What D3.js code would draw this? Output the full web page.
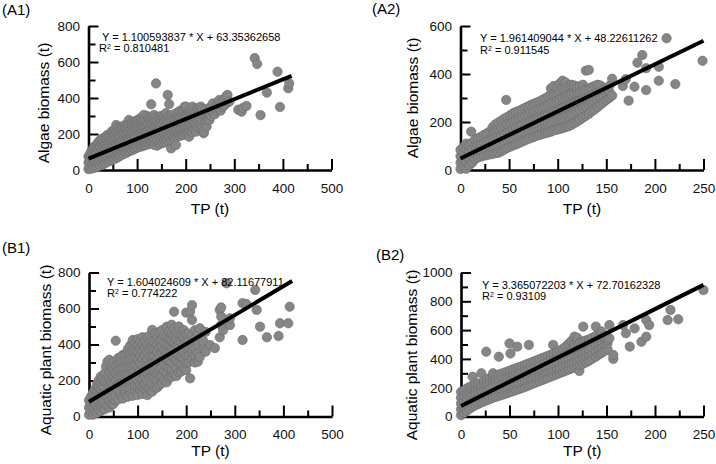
<!DOCTYPE html>
<html><head><meta charset="utf-8">
<script src="https://cdn.jsdelivr.net/npm/d3@7"></script>
<style>body{margin:0;background:#fff}svg{display:block;font-family:"Liberation Sans",Arial,sans-serif}</style>
</head><body><svg id="c" width="716" height="464"></svg>
<script>
// ---- chart values ----
const panelLabels = ["(A1)", "(A2)", "(B1)", "(B2)"];
const yTitles = ["Algae biomass (t)", "Algae biomass (t)", "Aquatic plant biomass (t)", "Aquatic plant biomass (t)"];
const xTitle = "TP (t)";
const xMax = [500, 250, 500, 250];
const yMax = [800, 600, 800, 1000];
const xMajorStep = [100, 50, 100, 50];
const yMajorStep = [200, 200, 200, 200];
const slopes = [1.100593837, 1.961409044, 1.604024609, 3.365072203];
const intercepts = [63.35362658, 48.22611262, 82.11677911, 72.70162328];
const fitXMax = [418, 250, 418, 250];
const eqTexts = ["Y = 1.100593837 * X + 63.35362658", "Y = 1.961409044 * X + 48.22611262",
                 "Y = 1.604024609 * X + 82.11677911", "Y = 3.365072203 * X + 72.70162328"];
const r2Values = ["0.810481", "0.911545", "0.774222", "0.93109"];

// point columns: [TP, biomass values at that TP...]
const columnsA1 = [
 [0,5,40,75],[3,20,55,90],[6,8,42,78,105],[9,25,60,95,118],[12,12,47,82,115,130],[15,28,62,96,128],
 [18,18,52,88,120,145],[21,35,70,105,140,157],[24,25,60,95,130,165],[27,40,75,110,145,172],[30,30,65,100,135,170],
 [33,45,80,115,150,180],[36,40,75,110,145,185],[39,55,90,125,160,195],[42,48,83,118,153,190],[45,60,95,130,165,200],
 [48,55,90,125,160,195,215],[51,68,103,138,173,210],[54,62,97,132,167,202,225],[57,75,110,145,180,215,250],
 [60,70,105,140,175,210,235],[63,85,120,155,190,225],[66,80,115,150,185,220,240],[69,95,130,165,200,235],
 [72,88,123,158,193,228,245],[75,100,135,170,205,240],[78,95,130,165,200,235,255],[81,108,143,178,213,248],[83,278],
 [84,105,140,175,210,231,255],[87,115,150,185,220,255],[90,110,145,180,215,250,265],[93,122,157,192,227,262],
 [96,118,153,188,223,258,272],[99,128,163,198,233,268],[102,125,160,195,230,265,280],[105,135,170,205,240,278],
 [108,130,165,200,235,270,290],[111,140,175,210,245,280],[114,135,170,205,240,275,306],[117,145,180,215,250,285],
 [120,140,175,210,245,280,300],[123,150,185,220,255,290],[126,145,180,215,250,285],[129,155,190,225,260,295,365],
 [132,150,185,220,255,290],[135,140,175,210,245,280,306],[138,150,185,220,255,290],[139,481],[141,135,170,205,240,275],
 [144,155,190,225,260,295],[147,145,180,215,250,285],[150,160,195,230,265,300],[153,150,185,220,255,287],
 [156,165,200,235,270,300],[159,155,190,213,245,280,315],[162,170,205,240,275],[163,417],[165,160,195,230,265,300],
 [166,366],[168,175,210,245,280],[170,120],[171,165,200,235,270,305],[174,180,215,250,285],[177,175,210,245,280,310],
 [180,139,190,225,260,295],[183,185,220,255,290,320],[186,195,230,265,300],[189,190,225,260,295,330],[192,200,235,270,305],
 [195,195,230,259,295,335],[198,205,240,275,310,352],[201,200,235,270,305,352],[204,210,245,280,315],
 [207,185,220,255,290,325],[210,215,250,285,320],[214,210,245,280,315,352],[217,225,260,295,330],[221,213,250,285,320],
 [224,235,270,305,340],[228,240,278,315,345],[231,255,290,325,352],[234,240,275,310,340],[237,204,213],[240,265,300,335],
 [243,241,280,320],[246,290,325],[249,278,310,345],[252,300,350],[256,320,370],[260,310,345],[264,330,360],[268,340,375],
 [269,389],[272,330,365],[276,350,385],[280,360,395],[284,411],[286,375,417],[290,380],
 [308,335],[315,324],[318,345],[325,356],[342,622],[347,589],[354,305],[367,430],[389,546],[394,350],[411,454],[413,481]
];
const columnsA2 = [
 [0,4,30,57,84],[3,15,42,70,96],[6,5,32,60,88,110],[9,20,47,75,103],[11,160],[12,30,58,86,114],[15,45,72,100,126],
 [18,52,80,108,132],[21,56,84,112,138],[24,60,88,117,146],[27,62,91,121,152],[30,65,95,126,160],[33,67,98,130,165,178],
 [36,70,101,134,168,190],[39,72,104,137,172,198],[42,78,110,143,177,205],[45,85,117,150,184,214],[47,292],
 [48,92,124,157,190,220],[51,97,130,163,196,228],[54,102,135,169,203,236],[57,107,141,175,209,242],
 [60,112,147,181,215,246],[63,118,153,188,222,252],[66,123,158,193,228,258],[69,128,163,198,233,264],
 [72,133,168,204,240,270],[75,137,173,209,245,275],[78,142,178,214,250,280],[81,146,182,218,254,285],
 [84,150,186,223,260,292],[87,153,190,228,265,298],[90,156,194,232,270,305],[93,160,199,238,277,315,340],
 [96,165,204,243,282,320,350],[99,168,208,248,288,325,345],[102,171,212,253,294,332,360],[105,174,216,258,300,338,372],
 [108,178,220,262,305,343,365],[111,182,225,268,310,350],[114,188,231,274,316,355],[117,195,237,279,320,352],
 [120,202,243,285,325,345],[123,210,250,290,328,350],[126,218,256,295,332,355],[129,226,263,300,336,414],
 [132,234,270,306,340,417],[135,244,278,312,345],[138,252,285,318,350],[141,262,293,324,355],[144,272,300,330,352],
 [147,282,308,334],[150,292,318,340],[153,300,326,350],[156,310,380],
 [167,350],[170,378],[173,289],[179,347],[182,447],[187,479],[191,424,333],[204,430,372],[212,549],[221,358],[249,455]
];
const columnsB1 = [
 [0,10,50,90],[4,30,70,110],[8,10,50,90,130],[12,30,70,110,150],[16,20,60,100,140,180],[20,40,80,120,160,200],
 [24,30,70,110,150,190,221],[28,50,90,130,170,210],[32,40,80,120,160,200,240],[35,277],[38,60,100,140,180,220,305],
 [42,50,90,130,170,210,250,315],[46,70,110,150,190,230,270],[50,70,100,140,180,220,260,300],[55,90,120,160,200,240,280,421],
 [60,95,140,180,220,260,300,325],[65,120,145,185,225,265,305,330],[70,100,150,190,230,270,310,342],
 [75,130,155,195,235,275,315,345],[80,110,155,195,235,275,315,355,375],[85,135,160,200,240,280,320,360,395],
 [90,115,165,205,245,285,325,365,405,425],[95,145,170,210,250,290,330,370,410],[100,120,165,205,245,285,325,365,400,430],
 [105,150,175,215,255,295,335,375,415],[110,125,165,205,245,285,325,365,405,440],[115,150,180,220,260,300,340,380,420],
 [120,119,160,200,240,280,320,360,400,440],[125,160,215,255,295,335,375,415,450],[130,138,180,220,260,300,340,380,420,481],
 [135,165,215,255,295,335,375,415,460],[140,160,200,240,280,320,360,400,440],[145,175,225,265,305,345,385,425,470],
 [150,185,230,270,310,350,390,430,480],[155,200,250,290,330,370,410,450],[160,190,240,280,320,360,400,440,499],
 [165,215,270,310,350,390,430,470],[170,220,260,300,340,380,420,460,510],[175,235,290,330,370,410,450,490,582],
 [180,225,270,310,350,390,430,470],[185,245,300,340,380,420,460,500],[190,250,290,330,370,410,450],
 [195,265,320,360,400,440,480],[200,258,300,340,380,420,460,577],[205,300,340,380,420,460],[208,212,582],
 [212,320,360,400,450,536,619],[218,300,340,380,430,480],[224,305,350,400,460],[228,330,490],[235,380,420],
 [240,360,470],[249,397],[259,380],[269,440,592],[272,508,555,606],[276,480],[283,740],[290,508,545],[316,425,630],
 [324,625],[342,703],[345,592],[352,499],[366,440],[390,447],[393,518],[410,518],[413,610]
];
const columnsB2 = [
 [0,10,50,90,130,170],[3,25,65,105,145,180],[6,40,80,120,160,195],[9,55,95,135,175,205],[12,68,108,148,188,215,276],
 [15,78,118,158,198,222],[18,88,128,168,208,230],[21,98,138,178,218,300],[24,106,146,186,226,248],[26,450],
 [27,114,154,194,234,258],[30,122,162,202,242,268],[33,130,170,210,250,278,300],[36,137,177,217,257,285],
 [39,143,183,223,263,292,415],[42,150,190,230,270,298],[45,156,196,236,276,305],[48,163,203,243,283,312],[50,508],
 [51,170,210,250,290,320,438],[54,177,217,257,297,328],[57,184,224,264,304,335],[58,485],[60,191,231,271,311,342],
 [63,198,238,278,318,350],[66,206,246,286,326,358],[69,214,254,294,334,366],[70,497],[72,222,262,302,342,374],
 [75,230,270,310,350,382],[78,238,278,318,358,390],[81,246,286,326,366,398],[84,254,294,334,374,406],
 [87,262,302,342,382,414],[90,270,310,350,390,422],[93,278,318,358,398,430],[95,497],[96,286,326,366,406,438],
 [99,294,334,374,414,446],[102,302,342,382,422,458],[105,310,350,390,430,470],[108,318,358,398,438,485],
 [111,326,366,406,446,505],[114,334,374,414,454,525],[117,342,382,422,462,500,555],[120,350,390,430,470,510,545],
 [122,316],[123,358,398,438,478,515],[126,366,406,446,486,522,624],[129,376,416,456,496,528],[132,388,428,468,508,535],
 [135,400,440,480,520,545],[139,415,455,495,535,560,624],[142,430,470,510,545],[145,442,482,522,560,590],
 [148,455,495,535,555],[151,468,508,530],
 [153,543,635],[157,400,427],[167,635],[170,578],[174,485],[179,612],[186,519],[191,554,670],[194,635],
 [213,670],[216,740],[224,675],[250,878]
];

// ---- layout ----
const frames = [
  {x0: 88.5, x1: 331.5, y0: 170, y1: 26, lab: [2, 14.5], eq: [102, 40.5], r2: [99, 52], yt: [49, 103], xt: 214},
  {x0: 460.5, x1: 703.5, y0: 170, y1: 26, lab: [372, 14], eq: [480, 42], r2: [480, 54], yt: [418, 98], xt: 214},
  {x0: 89, x1: 332, y0: 416.5, y1: 272.5, lab: [2, 253], eq: [107, 285.5], r2: [107, 297], yt: [50.5, 350], xt: 456},
  {x0: 461, x1: 703.5, y0: 416.5, y1: 272.5, lab: [376, 260], eq: [482, 289], r2: [482, 300], yt: [416.5, 355], xt: 456}
];

const flat = cols => cols.flatMap(c => c.slice(1).map(v => [c[0], v]));
const allPoints = [flat(columnsA1), flat(columnsA2), flat(columnsB1), flat(columnsB2)];

const svg = d3.select("#c");

frames.forEach((f, i) => {
  const x = d3.scaleLinear().domain([0, xMax[i]]).range([f.x0, f.x1]);
  const y = d3.scaleLinear().domain([0, yMax[i]]).range([f.y0, f.y1]);
  const g = svg.append("g");

  const xMajor = d3.range(0, xMax[i] + 1, xMajorStep[i]);
  const xMinor = d3.range(xMajorStep[i] / 2, xMax[i], xMajorStep[i]);
  const yMajor = d3.range(0, yMax[i] + 1, yMajorStep[i]);
  const yMinor = d3.range(yMajorStep[i] / 2, yMax[i], yMajorStep[i]);

  g.append("g").attr("transform", `translate(0,${f.y0})`)
    .call(d3.axisBottom(x).tickValues(xMajor).tickSize(-11).tickSizeOuter(0).tickPadding(13).tickFormat(d3.format("d")));
  g.append("g").attr("transform", `translate(0,${f.y0})`)
    .call(d3.axisBottom(x).tickValues(xMinor).tickSize(-6).tickSizeOuter(0).tickFormat(""))
    .select(".domain").remove();
  g.append("g").attr("transform", `translate(${f.x0},0)`)
    .call(d3.axisLeft(y).tickValues(yMajor).tickSize(-10).tickSizeOuter(0).tickPadding(8.5).tickFormat(d3.format("d")));
  g.append("g").attr("transform", `translate(${f.x0},0)`)
    .call(d3.axisLeft(y).tickValues(yMinor).tickSize(-7).tickSizeOuter(0).tickFormat(""))
    .select(".domain").remove();

  g.selectAll(".domain").attr("stroke", "#000").attr("stroke-width", 2.6);
  g.selectAll(".tick line").attr("stroke", "#000").attr("stroke-width", 2);
  g.selectAll(".tick text").attr("fill", "#111").style("font-size", "13.5px").style("font-family", '"Liberation Sans",Arial,sans-serif');

  g.append("g").selectAll("circle").data(allPoints[i]).join("circle")
    .attr("cx", d => x(d[0])).attr("cy", d => y(d[1])).attr("r", 4.7)
    .attr("fill", "#868686").attr("stroke", "#6c6c6c").attr("stroke-width", 0.6);

  g.append("line")
    .attr("x1", x(0)).attr("y1", y(intercepts[i]))
    .attr("x2", x(fitXMax[i])).attr("y2", y(slopes[i] * fitXMax[i] + intercepts[i]))
    .attr("stroke", "#000").attr("stroke-width", 4);

  g.append("text").attr("x", f.lab[0]).attr("y", f.lab[1]).style("font-size", "15px").text(panelLabels[i]);
  g.append("text").attr("x", f.eq[0]).attr("y", f.eq[1]).style("font-size", "11px").text(eqTexts[i]);
  const r2 = g.append("text").attr("x", f.r2[0]).attr("y", f.r2[1]).style("font-size", "11px");
  r2.append("tspan").text("R");
  r2.append("tspan").attr("dy", -3.5).style("font-size", "7px").text("2");
  r2.append("tspan").attr("dy", 3.5).text(" = " + r2Values[i]);
  g.append("text").attr("x", (f.x0 + f.x1) / 2).attr("y", f.xt).attr("text-anchor", "middle")
    .style("font-size", "15.5px").text(xTitle);
  g.append("text").attr("transform", `translate(${f.yt[0]},${f.yt[1]}) rotate(-90)`).attr("text-anchor", "middle")
    .style("font-size", "15.5px").text(yTitles[i]);
});
</script></body></html>
